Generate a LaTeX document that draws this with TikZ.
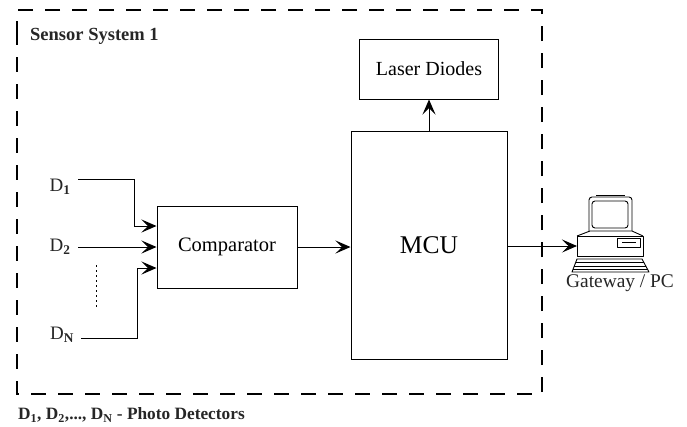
\documentclass[tikz,border=0pt]{standalone}
\usepackage{fontspec}
\setmainfont{Liberation Serif}
\usetikzlibrary{arrows.meta}
\tikzset{
  x=1pt,y=-1pt,
  blockbox/.style={draw=black,line width=1pt,minimum width=#1,inner sep=0pt},
  lbl/.style={inner sep=0pt,text=black!85},
  conn/.style={draw=black,line width=1pt,-{Stealth[length=15pt,width=13pt,inset=6.5pt]}},
  pcline/.style={draw=black,line width=0.9pt,line join=round},
  frameline/.style={draw=black,line width=2pt,dash pattern=on 15pt off 12pt},
}
\begin{document}
\begin{tikzpicture}
\useasboundingbox (0,0) rectangle (687,426);
% frame
\draw[frameline] (17,30) -- (17,394) -- (542,394) -- (542,10) -- (17,10) -- cycle;
\node[lbl,anchor=west,font=\fontsize{18.5}{20}\selectfont\bfseries] (title) at (30,36) {Sensor System 1};
% blocks
\node[blockbox=139pt,minimum height=60pt,font=\fontsize{20}{22}\selectfont] (laser) at (429,69) {Laser Diodes};
\node[blockbox=156pt,minimum height=228pt,font=\fontsize{25.5}{28}\selectfont] (mcu) at (429,245) {MCU};
\node[blockbox=140pt,minimum height=82pt,font=\fontsize{20.5}{22}\selectfont] (comp) at (227,247) {Comparator};
% inputs
\node[lbl,font=\fontsize{19}{20}\selectfont] (d1) at (60,187) {D\textsubscript{\bfseries 1}};
\node[lbl,font=\fontsize{19}{20}\selectfont] (d2) at (60,247) {D\textsubscript{\bfseries 2}};
\node[lbl,font=\fontsize{19}{20}\selectfont] (dn) at (62,335) {D\textsubscript{\bfseries N}};
\coordinate (d1s) at (78,179);
\coordinate (d2s) at (78,247);
\coordinate (dns) at (81,338);
\coordinate (c1) at (comp.west |- 0,226);
\coordinate (c2) at (comp.west |- 0,247);
\coordinate (c3) at (comp.west |- 0,268);
\draw[conn] (d1s) -| (134,226) -- (c1);
\draw[conn] (d2s) -- (c2);
\draw[conn] (dns) -| (137,268) -- (c3);
\coordinate (dotsa) at (96,265);
\coordinate (dotsb) at (96,308);
\draw[draw=black,line width=1pt,dash pattern=on 1.5pt off 3.5pt] (dotsa) -- (dotsb);
% connectors between blocks
\draw[conn] (comp.east) -- (mcu.west |- comp.east);
\draw[conn] (mcu.north) -- (laser.south);
\coordinate (pcport) at (577,246);
\draw[conn] (mcu.east |- pcport) -- (pcport);
% computer
\draw[pcline] (596,195) -- (625,195);
\draw[pcline,rounded corners=3pt] (589,231) -- (589,197) -- (632,197) -- (632,231);
\draw[pcline,rounded corners=3pt] (592,228) rectangle (628,201);
\draw[pcline] (577,236) -- (590,231) -- (632,231) -- (643,236);
\draw[pcline] (577,236) rectangle (643,256);
\draw[pcline] (617,238) rectangle (640,247);
\draw[line width=1.4pt] (622,242.5) -- (636,242.5);
\draw[pcline] (577,259) -- (572,272) -- (649,272) -- (642,259) -- cycle;
\draw[pcline] (575.5,262.5) -- (644,262.5);
\draw[pcline] (574,266) -- (646,266);
\draw[pcline] (573,269) -- (648,269);
\node[lbl,font=\fontsize{19.4}{22}\selectfont] (gw) at (620,283) {Gateway / PC};
% note
\node[lbl,anchor=west,font=\fontsize{17.3}{19}\selectfont\bfseries] (note) at (18,415) {D\textsubscript{1}, D\textsubscript{2},..., D\textsubscript{N} - Photo Detectors};
\end{tikzpicture}
\end{document}
